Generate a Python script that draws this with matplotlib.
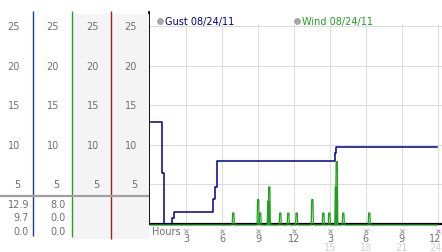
import matplotlib
matplotlib.use("Agg")
import matplotlib.pyplot as plt
import matplotlib.transforms as mtransforms
import numpy as np

# ---------------- data ----------------
gust_hours = [0.0, 0.96, 1.09, 1.80, 1.93, 5.25, 5.39, 5.54, 15.43, 15.55, 23.95]
gust_values = [12.9, 6.4, 0.0, 0.8, 1.5, 3.2, 4.7, 8.0, 9.0, 9.7, 9.7]

wind_spike_hours = [6.92, 9.00, 9.17, 9.85, 9.93, 10.85, 11.52, 12.22, 13.53,
                    14.45, 14.95, 15.50, 15.57, 16.12, 18.29]
wind_spike_values = [1.5, 3.2, 1.5, 3.0, 4.8, 1.5, 1.5, 1.5, 3.2,
                     1.5, 1.5, 4.8, 8.0, 1.5, 1.5]
wind_end_hour = 24.0

y_ticks = [5, 10, 15, 20, 25]
x_ticks = [3, 6, 9, 12, 15, 18, 21, 24]
x_tick_labels = ["3", "6", "9", "12", "3", "6", "9", "12"]
x_tick_labels2 = ["", "", "", "", "15", "18", "21", "24"]

gust_stats = ["12.9", "9.7", "0.0"]
wind_stats = ["8.0", "0.0", "0.0"]
gust_label = "Gust 08/24/11"
wind_label = "Wind 08/24/11"

# ---------------- figure ----------------
W, H = 442, 253
fig = plt.figure(figsize=(W / 100, H / 100), dpi=100)
fig.patch.set_facecolor("white")

def fx(px):
    return px / W

def fy(py):
    return 1 - py / H

# main axes: left edge x=149, bottom y=225, top y=13
ax = fig.add_axes([fx(149), fy(225), fx(442 - 149), (225 - 13) / H])
ax.set_facecolor("white")
px_per_h = 11.96
x0px = 150.5
ax.set_xlim(-(x0px - 149) / px_per_h, (442 - x0px) / px_per_h)
ax.set_ylim(0, (225 - 13) / 7.92)

for s in ["top", "right"]:
    ax.spines[s].set_visible(False)
ax.spines["left"].set_color("black")
ax.spines["left"].set_linewidth(1.3)
ax.spines["bottom"].set_color("black")
ax.spines["bottom"].set_linewidth(1.6)
ax.set_xticks([])
ax.set_yticks([])

grid_c = "#dcdcdc"
for yv in y_ticks:
    ax.axhline(yv, color=grid_c, lw=0.8, zorder=0)
ax.vlines(x_ticks, 0, 25.3, color=grid_c, lw=0.8, zorder=0)

# wind (green) spikes built from the spike lists
wx, wy = [0.0], [0.0]
for t, v in zip(wind_spike_hours, wind_spike_values):
    wx += [t - 0.09, t - 0.05, t + 0.05, t + 0.09]
    wy += [0.0, v, v, 0.0]
wx.append(wind_end_hour)
wy.append(0.0)
ax.plot(wx, np.array(wy) - 0.12, color="#1fa01f", lw=0.9, zorder=3, clip_on=False)

# gust (navy) step line
ax.step(gust_hours, gust_values, where="post", color="#00008b", lw=1.1, zorder=4)

# tick glyph marks
mark_c = "#9a9a9a"
ax.plot([-0.32] * len(y_ticks), y_ticks, ls="none", marker="x", ms=2.5,
        mew=0.7, color=mark_c, clip_on=False)
ax.plot(x_ticks, [-0.85] * len(x_ticks), ls="none", marker="x", ms=2.5,
        mew=0.7, color=mark_c, clip_on=False)

# x tick labels (last column right-aligned at the figure edge)
tf = 7
right_edge_h = (441.5 - x0px) / px_per_h
for i, (xt, l1, l2) in enumerate(zip(x_ticks, x_tick_labels, x_tick_labels2)):
    last = i == len(x_ticks) - 1
    xpos = right_edge_h if last else xt
    ha = "right" if last else "center"
    ax.text(xpos, -1.75, l1, ha=ha, va="center", fontsize=tf,
            color="#707070", clip_on=False)
    if l2:
        ax.text(xpos, -2.9, l2, ha=ha, va="center", fontsize=tf,
                color="#d0d0d0", clip_on=False)
ax.text(0.1, -0.85, "Hours", ha="left", va="center", fontsize=tf,
        color="#707070", clip_on=False)

# legend
ax.plot([0.78], [25.65], marker="o", ms=4.2, color="#a8a8a8", mec="#909090",
        mew=0.5, clip_on=False)
ax.text(1.2, 25.65, gust_label, ha="left", va="center", fontsize=7,
        color="#00008b", clip_on=False)
ax.plot([12.25], [25.65], marker="o", ms=4.2, color="#a8a8a8", mec="#909090",
        mew=0.5, clip_on=False)
ax.text(12.65, 25.65, wind_label, ha="left", va="center", fontsize=7,
        color="#1fa01f", clip_on=False)

# ---------------- left panel ----------------
lax = fig.add_axes([0, 0, fx(149), 1])
lax.set_xlim(0, 149)
lax.set_ylim(H, 0)
lax.axis("off")
lax.patch.set_visible(False)

# gray backgrounds of columns 3 and 4
lax.fill_between([72, 149], 15, 240, color="#f4f4f4", lw=0, zorder=0)

# column divider lines
lax.vlines(33, 12, 237, color="#1a3c9c", lw=1.0)
lax.vlines(72, 12, 238, color="#2aa02a", lw=1.0)
lax.vlines(111, 12, 240, color="#a02020", lw=1.0)

# horizontal separator
lax.hlines(197, 0, 149, color="#a0a0a0", lw=1.6)

# y labels aligned with main data scale
blend = mtransforms.blended_transform_factory(lax.transData, ax.transData)
col_right = [20, 59, 99, 137]
for xr in col_right:
    for yv in y_ticks:
        lax.text(xr, yv, str(yv), ha="right", va="center", fontsize=tf,
                 color="#707070", transform=blend)

stat_y = [205, 218.5, 232]
for s, yy in zip(gust_stats, stat_y):
    lax.text(29, yy, s, ha="right", va="center", fontsize=tf, color="#707070")
for s, yy in zip(wind_stats, stat_y):
    lax.text(66, yy, s, ha="right", va="center", fontsize=tf, color="#707070")

fig.savefig("out.png", dpi=100, facecolor="white")
